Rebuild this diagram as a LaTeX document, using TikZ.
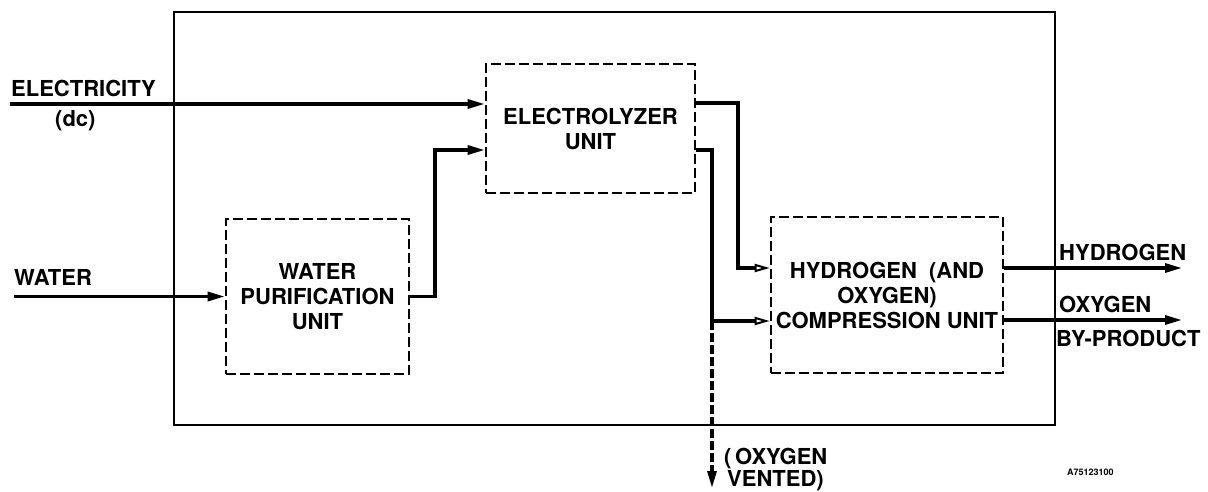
\documentclass[tikz,border=0pt]{standalone}
\usepackage{fontspec}
\setmainfont{TeX Gyre Heros}
\usetikzlibrary{arrows.meta}
\begin{document}
\begin{tikzpicture}[x=1pt,y=-1pt,
  txt/.style={font=\fontsize{22}{25}\selectfont\bfseries},
  unitbox/.style={draw, line width=2.6pt, dash pattern=on 10pt off 4pt, inner sep=0pt,
    align=center, txt},
  flow/.style={line width=3.2pt, line join=miter},
  fa/.style={-{Triangle[length=17pt,width=9pt]}},
  ha/.style={-{Triangle[open,length=15pt,width=8pt,line width=2pt]}},
  lbl/.style={inner sep=0pt, anchor=base west, txt},
]
\useasboundingbox (0,0) rectangle (1208,491);

% outer boundary
\node[draw, line width=2.4pt, minimum width=881pt, minimum height=413pt, inner sep=0pt] (outer) at (614.5,218.5) {};

% units
\node[unitbox, minimum width=209pt, minimum height=129pt] (ely) at (590.5,128.5) {ELECTROLYZER\\UNIT};
\node[unitbox, minimum width=183pt, minimum height=155pt] (wpu) at (317.5,296.5) {WATER\\PURIFICATION\\UNIT};
\node[unitbox, minimum width=232pt, minimum height=156pt] (cmp) at (887,295) {HYDROGEN\ \ (AND\\OXYGEN)\\COMPRESSION UNIT};

% coordinates
\coordinate (elecin) at (10,104);
\coordinate (watin) at (14,296.5);
\coordinate (j1) at (435,150);
\coordinate (h1) at (738,103);
\coordinate (h2) at (738,268);
\coordinate (o1) at (712,150);
\coordinate (o2) at (712,321);
\coordinate (ovent) at (712,488);
\coordinate (hout) at (1182,268);
\coordinate (oout) at (1182,320);

% connectors
\draw[flow, fa] (elecin) -- (elecin -| ely.west);
\draw[flow, fa] (watin) -- (watin -| wpu.west);
\draw[flow, fa] (wpu.east) -| (j1) -- (j1 -| ely.west);
\draw[flow, ha] (h1 -| ely.east) -- (h1) -- (h2) -- (h2 -| cmp.west);
\draw[flow, ha] (o1 -| ely.east) -- (o1) -- (o2) -- (o2 -| cmp.west);
\draw[flow, fa, dash pattern=on 9pt off 3pt] (o2) -- (ovent);
\draw[flow, fa] (hout -| cmp.east) -- (hout);
\draw[flow, fa] (oout -| cmp.east) -- (oout);

% labels
\node[lbl] (lelec) at (11,96) {ELECTRICITY};
\node[lbl] (ldc) at (55,126) {(dc)};
\node[lbl] (lwat) at (14,285) {WATER};
\node[lbl] (lhyd) at (1059,260) {HYDROGEN};
\node[lbl] (loxy) at (1059,312) {OXYGEN};
\node[lbl] (lbyp) at (1056,346) {BY-PRODUCT};
\node[lbl] (lvent1) at (724,464) {(\,OXYGEN};
\node[lbl] (lvent2) at (727,486) {VENTED)};
\node[inner sep=0pt, anchor=base west, font=\fontsize{9}{10}\selectfont\bfseries] (lid) at (1067,475) {A75123100};
\end{tikzpicture}
\end{document}
